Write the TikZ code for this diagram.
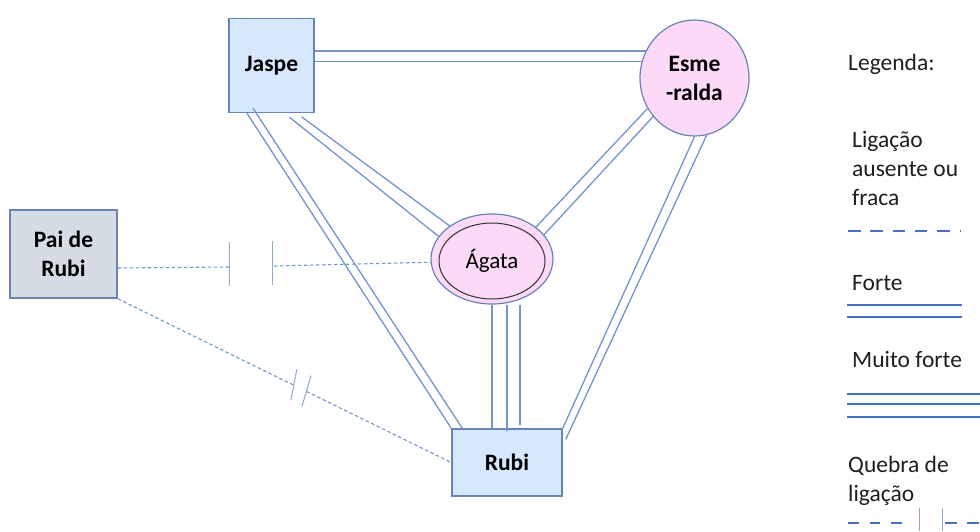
\documentclass[tikz,border=0pt]{standalone}
\usepackage{fontspec}
\setmainfont{Carlito}
\usetikzlibrary{calc,shapes.geometric}
\definecolor{lnk}{RGB}{114,148,208}
\definecolor{bord}{RGB}{104,132,184}
\definecolor{boxblue}{RGB}{214,232,252}
\definecolor{boxgray}{RGB}{214,220,229}
\definecolor{pinkf}{RGB}{252,217,246}
\definecolor{legblue}{RGB}{68,114,196}
\definecolor{txt}{RGB}{30,30,30}
\begin{document}
\begin{tikzpicture}[x=1pt,y=-1pt,
  lbl/.style={font=\fontsize{23.5}{29}\selectfont\bfseries, align=center, text=black},
  sqbox/.style={draw=bord, line width=1.5pt, fill=boxblue, rectangle, inner sep=0pt, lbl},
  ovl/.style={draw=bord, line width=1.2pt, fill=pinkf, ellipse, inner sep=0pt},
  link/.style={draw=lnk, line width=1.3pt},
  weak/.style={draw=lnk, line width=1.1pt, dash pattern=on 3.5pt off 2.5pt},
  legtxt/.style={font=\fontsize{23.5}{29}\selectfont, text=txt, align=left, inner sep=0pt, anchor=base west},
  legline/.style={draw=legblue, line width=2.2pt},
  brk/.style={draw=lnk!80, line width=1pt},
]
\useasboundingbox (0,0) rectangle (980,531);

% nodes
\node[sqbox, minimum width=85, minimum height=94] (jaspe) at (271.5,65.5) {Jaspe};
\node[sqbox, minimum width=110, minimum height=67] (rubi) at (507,462.5) {Rubi};
\node[sqbox, fill=boxgray, minimum width=107, minimum height=88] (pai) at (63.5,254) {Pai de\\Rubi};
\node[ovl, lbl, minimum width=109, minimum height=116] (esme) at (694.5,78) {Esme\\-ralda};
\node[ovl, minimum width=122, minimum height=90] (agata) at (492,259) {};
\node[ellipse, draw=black!80, line width=1pt, minimum width=106, minimum height=76, inner sep=0pt,
      font=\fontsize{23}{29}\selectfont] (agatain) at (492,261) {Ágata};

% Jaspe - Esmeralda
\draw[link] (esme.151 -| jaspe.east) -- (esme.151);
\draw[link] (esme.163 -| jaspe.east) -- (esme.163);
% Jaspe - Agata
\draw[link] ($(jaspe.south)+(18,4)$) -- (agata.157);
\draw[link] ($(jaspe.south)+(30,3.5)$) -- (agata.142);
% Jaspe - Rubi
\draw[link] ($(jaspe.south)+(-24.5,0)$) -- (rubi.north west);
\draw[link] ($(jaspe.south)+(-18.5,-5)$) -- ($(rubi.north west)+(11,0)$);
% Esmeralda - Agata
\draw[link] (esme.213) -- (agata.36);
\draw[link] (esme.223) -- (agata.25);
% Esmeralda - Rubi
\draw[link] (esme.south) -- (rubi.north east);
\draw[link] (esme.282) -- ($(rubi.north east)+(3,11)$);
% Agata - Rubi (triple)
\draw[link] (agata.south) -- (agata.south |- rubi.north);
\draw[link] ($(agata.south)+(15,0)$) -- ($(rubi.north)+(0,3)$);
\draw[link] ($(agata.south)+(28,0)$) -- ($(rubi.north)+(13,-3)$);

% Pai - Agata (broken)
\coordinate (b1) at (229,267);
\coordinate (b2) at (274,266);
\draw[weak] ($(pai.east)+(0,14)$) -- (b1);
\draw[weak] (b2) -- (agata.183);
\draw[brk] ($(b1)+(0,-25)$) -- ($(b1)+(0,19)$);
\draw[brk] ($(b2)+(-2,-25)$) -- ($(b2)+(-2,19)$);

% Pai - Rubi (broken)
\path (pai.south east) -- (rubi.west) coordinate[pos=0.528] (b3) coordinate[pos=0.566] (b4);
\draw[weak] (pai.south east) -- (b3);
\draw[weak] (b4) -- (rubi.west);
\draw[brk] ($(b3)+(3,-16)$) -- ($(b3)+(-3,15)$);
\draw[brk] ($(b4)+(4.5,-16)$) -- ($(b4)+(-4.5,15)$);

% Legend
\node[legtxt] (leg) at (848,70) {Legenda:};
\node[legtxt] (l1) at (852,205) {Ligação\\ausente ou\\fraca};
\draw[legline, dash pattern=on 12.5pt off 9.8pt] (848,231) -- (961,231);
\node[legtxt] (l2) at (852,290) {Forte};
\draw[legline, line width=2pt] (847,305) -- (962,305);
\draw[legline, line width=2pt] (847,317) -- (962,317);
\node[legtxt] (l3) at (852,367) {Muito forte};
\draw[legline, line width=2pt] (847,394) -- (980,394);
\draw[legline, line width=2pt] (847,404) -- (980,404);
\draw[legline, line width=2pt] (847,417) -- (980,417);
\node[legtxt] (l4) at (848,501) {Quebra de\\ligação};
\draw[legline, dash pattern=on 10.5pt off 11pt] (848,523) -- (902,523);
\draw[brk] (919,508) -- (919,531);
\draw[brk] (942,508) -- (942,531);
\draw[legline, dash pattern=on 12pt off 10pt] (945,523) -- (980,523);
\end{tikzpicture}
\end{document}
